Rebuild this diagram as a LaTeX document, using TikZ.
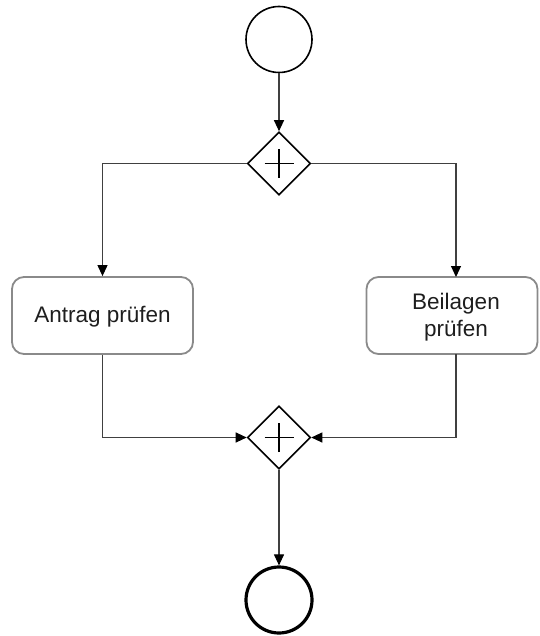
\documentclass[tikz,border=0pt]{standalone}
\usepackage{fontspec}
\setmainfont{Liberation Sans}
\usetikzlibrary{shapes.geometric,arrows.meta}
\definecolor{conn}{HTML}{404040}
\definecolor{boxline}{HTML}{8A8A8A}
\definecolor{txt}{HTML}{1E1E1E}
\begin{document}
\begin{tikzpicture}[x=1pt,y=-1pt,
  conn/.style={draw=conn,line width=1.1pt,-{Triangle[length=11pt,width=10pt,color=black]}},
  startev/.style={circle,draw=black,line width=1.6pt,minimum size=66pt,inner sep=0pt},
  endev/.style={circle,draw=black,line width=3.2pt,minimum size=66pt,inner sep=0pt},
  gate/.style={diamond,draw=black,line width=1.6pt,minimum width=63pt,minimum height=63pt,inner sep=0pt,aspect=1},
  plusline/.style={draw=black,line width=1.8pt},
  taskbox/.style={rectangle,rounded corners=12pt,draw=boxline,line width=1.8pt,inner sep=0pt},
  tasktext/.style={text=txt,font=\fontsize{22.5}{26.5}\selectfont,align=center}
]
\useasboundingbox (0,0) rectangle (539,636);
\node[startev] (start) at (279,39.5) {};
\node[gate] (g1) at (279,163.5) {};
\node[gate] (g2) at (279,437.5) {};
\node[endev] (end) at (279,600) {};
\node[taskbox,minimum width=181pt,minimum height=77pt] (t1) at (102.5,315.5) {};
\node[tasktext] (t1label) at (102.5,317) {Antrag prüfen};
\node[taskbox,minimum width=171pt,minimum height=77pt] (t2) at (452,315.5) {};
\node[tasktext] (t2label) at (456,317) {Beilagen\\prüfen};
\coordinate (t2in) at (456,277);
\coordinate (t2out) at (456,354);
\foreach \g in {g1,g2}{
  \draw[plusline] ([xshift=-14.5pt]\g.center) -- ([xshift=14.5pt]\g.center);
  \draw[plusline] ([yshift=-14.5pt]\g.center) -- ([yshift=14.5pt]\g.center);
}
\draw[conn] (start.south) -- (g1.north);
\draw[conn] (g1.west) -| (t1.north);
\draw[conn] (g1.east) -| (t2in);
\draw[conn] (t1.south) |- (g2.west);
\draw[conn] (t2out) |- (g2.east);
\draw[conn] (g2.south) -- (end.north);
\end{tikzpicture}
\end{document}
